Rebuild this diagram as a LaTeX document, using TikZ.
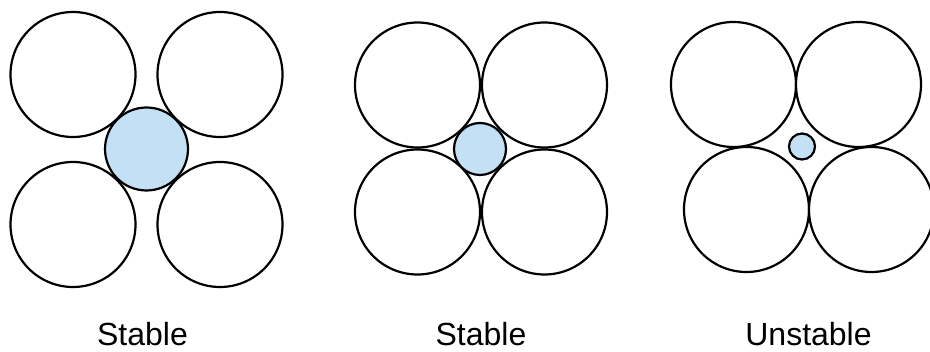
\documentclass[tikz,border=0pt]{standalone}
\usepackage{fontspec}
\setmainfont{Liberation Sans}
\definecolor{ballblue}{RGB}{196,224,245}
\begin{document}
\begin{tikzpicture}[x=1pt,y=-1pt,
  big/.style={circle,draw=black,line width=2.2pt,fill=white,inner sep=0pt,minimum size=125pt},
  ball/.style={circle,draw=black,line width=2.2pt,fill=ballblue,inner sep=0pt},
  lbl/.style={anchor=base,inner sep=0pt,font=\fontsize{32}{36}\selectfont}]
\useasboundingbox (0,0) rectangle (930,352);
% panel 1
\node[big] (a1) at (73,74.5) {};
\node[big] (a2) at (220,74.5) {};
\node[big] (a3) at (73,224.5) {};
\node[big] (a4) at (220,224.5) {};
\node[ball,minimum size=83pt] (a5) at (146.5,149) {};
\node[lbl] (la) at (142.5,346) {Stable};
% panel 2
\node[big] (b1) at (417.5,85) {};
\node[big] (b2) at (544.5,85) {};
\node[big] (b3) at (417.5,212) {};
\node[big] (b4) at (544.5,212) {};
\node[ball,minimum size=52pt] (b5) at (480,149) {};
\node[lbl] (lb) at (481,346) {Stable};
% panel 3
\node[big] (c1) at (733.5,84.5) {};
\node[big] (c2) at (858.5,84.5) {};
\node[big] (c3) at (746.5,209.5) {};
\node[big] (c4) at (871.5,209.5) {};
\node[ball,minimum size=26pt] (c5) at (802,146.5) {};
\node[lbl] (lc) at (808.5,346) {Unstable};
\end{tikzpicture}
\end{document}
